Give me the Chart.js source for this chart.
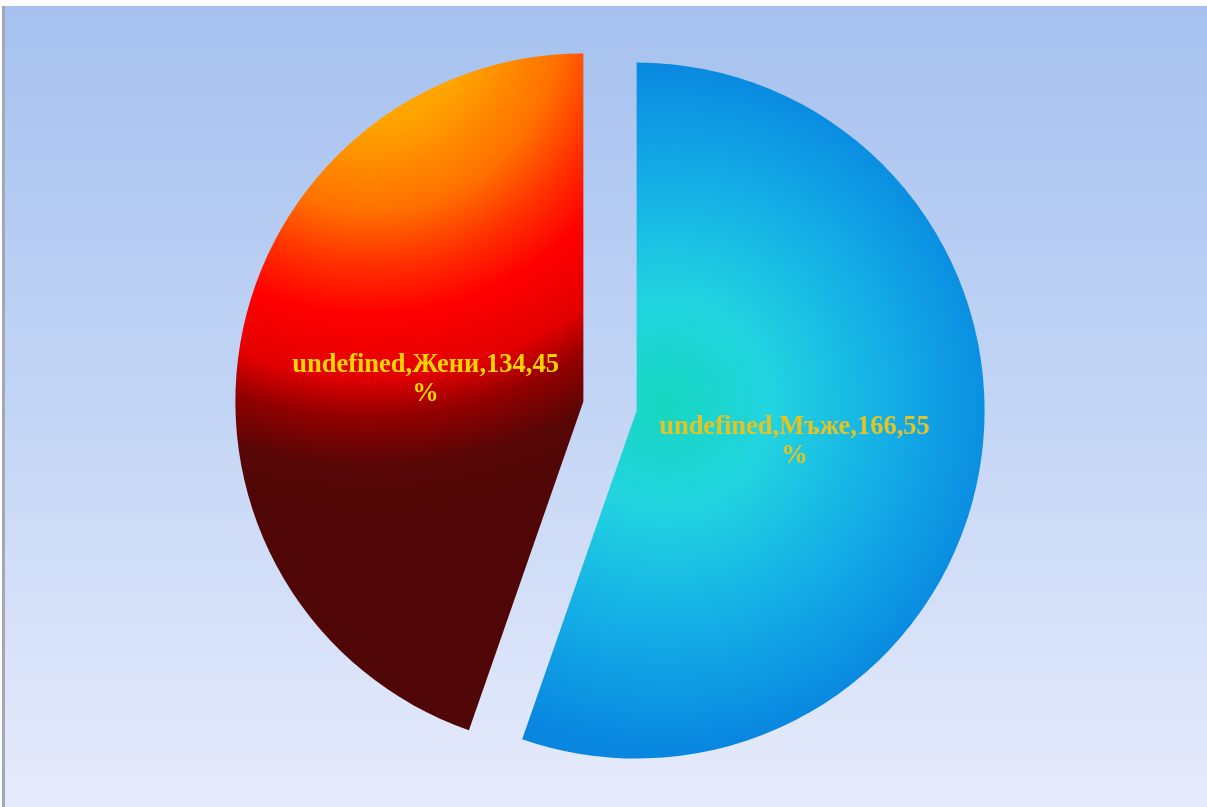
<!DOCTYPE html>
<html>
<head>
<meta charset="utf-8">
<script src="https://cdn.jsdelivr.net/npm/chart.js@4.4.0/dist/chart.umd.min.js"></script>
<style>
    body { margin: 0; background: #ffffff; }
    canvas { display: block; }
</style>
</head>
<body>
<canvas id="pieChart" width="1207" height="807"></canvas>
<script>
// Разпределение по пол
const labels = ['Мъже', 'Жени'];
const values = [166, 134];

const total = values.reduce((a, b) => a + b, 0);
const percents = values.map(v => Math.round(v / total * 100));

const RADIUS = 348;
const EXPLODE = 27;   // колко се отделя всеки сектор от центъра

// фон на платното - синкав градиент с рамка отляво
const backgroundPlugin = {
    id: 'pageBackground',
    beforeDraw: (chart) => {
        const ctx = chart.ctx;
        const w = chart.width;
        const h = chart.height;
        ctx.save();
        ctx.fillStyle = '#ffffff';
        ctx.fillRect(0, 0, w, h);
        const g = ctx.createLinearGradient(0, 6, 0, h);
        g.addColorStop(0, '#a6c1ef');
        g.addColorStop(0.5, '#c3d5f5');
        g.addColorStop(1, '#e6ebfb');
        ctx.fillStyle = g;
        ctx.fillRect(5, 6, w - 5, h - 6);
        ctx.fillStyle = '#a3a8b4';
        ctx.fillRect(2, 6, 3, h - 6);
        ctx.restore();
    }
};

// отместване на секторите навън по средния им ъгъл
const explodePlugin = {
    id: 'explode',
    afterDatasetUpdate: (chart, args) => {
        const meta = chart.getDatasetMeta(args.index);
        meta.data.forEach(arc => {
            const mid = (arc.startAngle + arc.endAngle) / 2;
            arc.x += Math.cos(mid) * EXPLODE;
            arc.y += Math.sin(mid) * EXPLODE;
        });
    }
};

// надписите върху секторите
const sliceLabels = {
    id: 'sliceLabels',
    afterDatasetsDraw: (chart) => {
        const ctx = chart.ctx;
        const meta = chart.getDatasetMeta(0);
        const colors = ['#e4c324', '#ffd400'];
        ctx.save();
        ctx.font = 'bold 26.5px "Liberation Serif", "Times New Roman", serif';
        ctx.textAlign = 'center';
        ctx.textBaseline = 'middle';
        meta.data.forEach((arc, i) => {
            const mid = (arc.startAngle + arc.endAngle) / 2;
            const r = arc.outerRadius * 0.46;
            const x = arc.x + Math.cos(mid) * r;
            const y = arc.y + Math.sin(mid) * r + 4;
            ctx.fillStyle = colors[i];
            ctx.fillText(`undefined,${labels[i]},${values[i]},${percents[i]}`, x, y - 14);
            ctx.fillText('%', x, y + 15);
        });
        ctx.restore();
    }
};

const sliceFill = (context) => {
    const chart = context.chart;
    const area = chart.chartArea;
    const i = context.dataIndex;
    if (!area) {
        return i === 0 ? '#0a8ae0' : '#ff0000';
    }
    const cx = (area.left + area.right) / 2;
    const cy = (area.top + area.bottom) / 2;
    const ctx = chart.ctx;
    if (i === 0) {
        const g = ctx.createRadialGradient(cx + 55, cy - 2, 0, cx + 55, cy - 2, RADIUS);
        g.addColorStop(0, '#16d7c0');
        g.addColorStop(0.3, '#22d4e0');
        g.addColorStop(0.65, '#14ade6');
        g.addColorStop(1, '#0886e0');
        return g;
    }
    const g = ctx.createRadialGradient(cx - 240, cy - 386, 0, cx - 240, cy - 386, 490);
    g.addColorStop(0, '#ffa800');
    g.addColorStop(0.21, '#ffa400');
    g.addColorStop(0.39, '#ff7000');
    g.addColorStop(0.5, '#ff3000');
    g.addColorStop(0.6, '#ff0000');
    g.addColorStop(0.73, '#e20000');
    g.addColorStop(0.81, '#920000');
    g.addColorStop(0.91, '#580606');
    g.addColorStop(1, '#500606');
    return g;
};

const ctx = document.getElementById('pieChart').getContext('2d');
const pieChart = new Chart(ctx, {
    type: 'pie',
    data: {
        labels: labels,
        datasets: [{
            data: values,
            backgroundColor: sliceFill,
            borderWidth: 0,
            hoverOffset: 0,
            radius: RADIUS
        }]
    },
    options: {
        responsive: false,
        animation: false,
        events: [],
        layout: {
            padding: { left: 13, top: 5, right: 0, bottom: 0 }
        },
        plugins: {
            legend: { display: false },
            tooltip: { enabled: false }
        }
    },
    plugins: [backgroundPlugin, explodePlugin, sliceLabels]
});
</script>
</body>
</html>
